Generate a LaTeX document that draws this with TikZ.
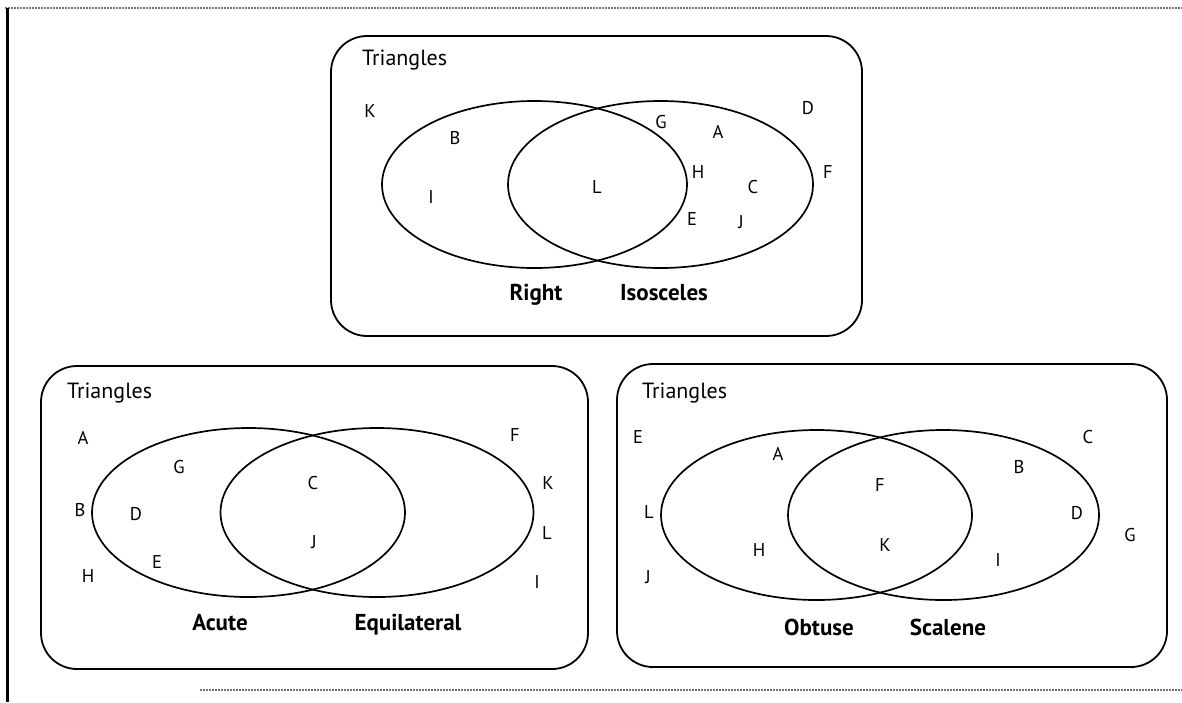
\documentclass[tikz,border=0pt]{standalone}
\usepackage{fontspec}
\setmainfont{PT Sans}
\begin{document}
\begin{tikzpicture}[x=1pt,y=-1pt,
  lbl/.style={font=\fontsize{18.5}{22}\selectfont, inner sep=0pt, text height=13pt, text depth=0pt, anchor=center},
  ttl/.style={font=\fontsize{22}{26}\selectfont, inner sep=0pt, anchor=base west},
  setname/.style={font=\fontsize{23}{27}\selectfont\bfseries, inner sep=0pt, text height=16pt, text depth=0pt, anchor=center},
  setbox/.style={draw, line width=1.8pt, rounded corners=36pt},
  venn/.style={draw, line width=1.7pt},
  scanline/.style={draw=black!55, line width=1.2pt, dash pattern=on 2pt off 1pt},
]
\useasboundingbox (0,0) rectangle (1182,702);

% page frame remnants
\coordinate (fTL) at (5,8);
\coordinate (fTR) at (1182,8);
\coordinate (fL0) at (7,8);
\coordinate (fL1) at (7,702);
\coordinate (fB0) at (200,690);
\coordinate (fB1) at (1182,690);
\draw[scanline] (fTL) -- (fTR);
\draw[scanline] (fB0) -- (fB1);
\draw[line width=3pt] (fL0) -- (fL1);

% ---------- top: Right / Isosceles ----------
\draw[setbox] (331,36) rectangle (862,336);
\draw[venn] (534.5,184.5) ellipse [x radius=152.5pt, y radius=83.5pt];
\draw[venn] (660.5,184.5) ellipse [x radius=152.5pt, y radius=83.5pt];
\node[ttl] (t1) at (362,65) {Triangles};
\node[lbl] (t1K) at (370,111) {K};
\node[lbl] (t1B) at (455,138) {B};
\node[lbl] (t1I) at (431,197) {I};
\node[lbl] (t1L) at (597,187) {L};
\node[lbl] (t1G) at (661,122) {G};
\node[lbl] (t1A) at (718,132) {A};
\node[lbl] (t1D) at (808,108) {D};
\node[lbl] (t1H) at (698,172) {H};
\node[lbl] (t1C) at (753,187) {C};
\node[lbl] (t1F) at (828,172) {F};
\node[lbl] (t1E) at (692,219) {E};
\node[lbl] (t1J) at (741,222) {J};
\node[setname] (t1s1) at (536,292) {Right};
\node[setname] (t1s2) at (664,292) {Isosceles};

% ---------- bottom left: Acute / Equilateral ----------
\draw[setbox] (41,366) rectangle (588,669);
\draw[venn] (248.5,512.5) ellipse [x radius=156.5pt, y radius=84.5pt];
\draw[venn] (377,512.5) ellipse [x radius=156.5pt, y radius=84.5pt];
\node[ttl] (t2) at (67,398) {Triangles};
\node[lbl] (t2A) at (83,438) {A};
\node[lbl] (t2G) at (179,467) {G};
\node[lbl] (t2B) at (80,510) {B};
\node[lbl] (t2D) at (136,514) {D};
\node[lbl] (t2E) at (157,562) {E};
\node[lbl] (t2H) at (88,576) {H};
\node[lbl] (t2C) at (313,483) {C};
\node[lbl] (t2J) at (314,542) {J};
\node[lbl] (t2F) at (515,435) {F};
\node[lbl] (t2K) at (548,483) {K};
\node[lbl] (t2L) at (547,533) {L};
\node[lbl] (t2I) at (537,582) {I};
\node[setname] (t2s1) at (220,622) {Acute};
\node[setname] (t2s2) at (408,622) {Equilateral};

% ---------- bottom right: Obtuse / Scalene ----------
\draw[setbox] (617,364) rectangle (1167,667);
\draw[venn] (816.5,515) ellipse [x radius=155.5pt, y radius=85pt];
\draw[venn] (943.5,515) ellipse [x radius=155.5pt, y radius=85pt];
\node[ttl] (t3) at (642,398) {Triangles};
\node[lbl] (t3E) at (638,437) {E};
\node[lbl] (t3A) at (778,454) {A};
\node[lbl] (t3L) at (649,512) {L};
\node[lbl] (t3H) at (759,550) {H};
\node[lbl] (t3J) at (648,577) {J};
\node[lbl] (t3F) at (880,485) {F};
\node[lbl] (t3K) at (885,545) {K};
\node[lbl] (t3C) at (1088,437) {C};
\node[lbl] (t3B) at (1019,467) {B};
\node[lbl] (t3D) at (1077,513) {D};
\node[lbl] (t3G) at (1130,535) {G};
\node[lbl] (t3I) at (998,560) {I};
\node[setname] (t3s1) at (819,627) {Obtuse};
\node[setname] (t3s2) at (948,627) {Scalene};
\end{tikzpicture}
\end{document}
